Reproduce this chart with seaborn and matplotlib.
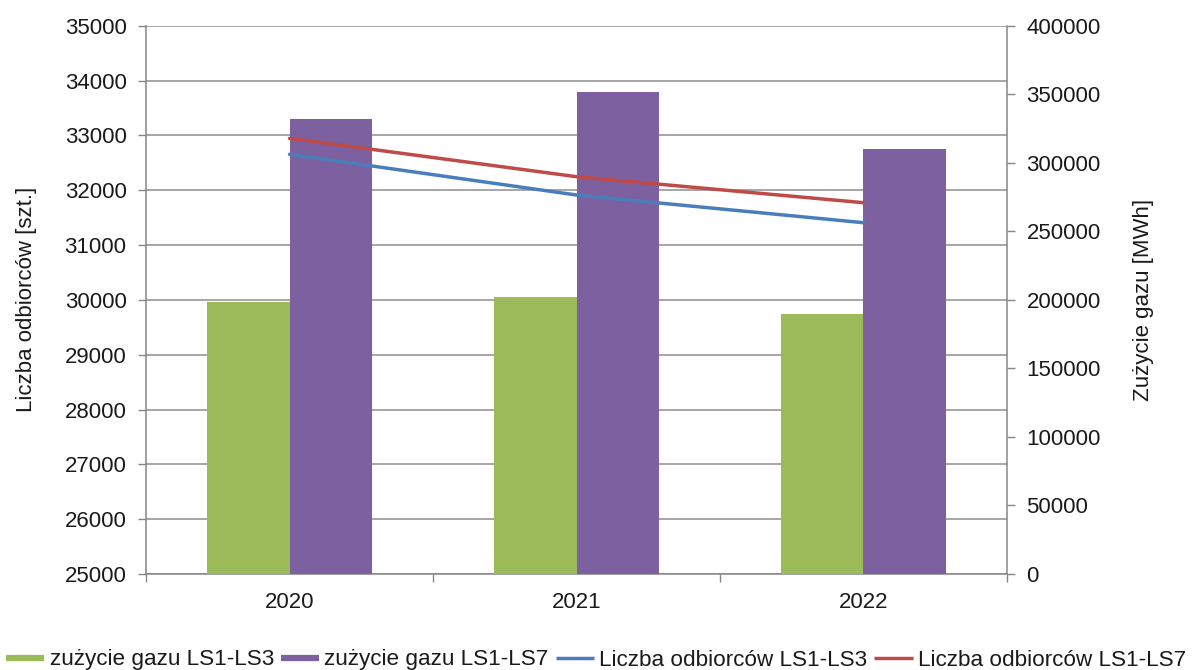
import numpy as np
import pandas as pd
import matplotlib
matplotlib.use("Agg")
import matplotlib.pyplot as plt
from matplotlib.lines import Line2D
import seaborn as sns

# Data
years = ["2020", "2021", "2022"]
gas_ls1_ls3 = [198700, 201900, 189700]      # MWh
gas_ls1_ls7 = [331900, 351400, 310000]      # MWh
customers_ls1_ls3 = [32655, 31912, 31407]   # szt.
customers_ls1_ls7 = [32946, 32246, 31772]   # szt.

bar_labels = ["zużycie gazu LS1-LS3", "zużycie gazu LS1-LS7"]
line_labels = ["Liczba odbiorców LS1-LS3", "Liczba odbiorców LS1-LS7"]

GREEN = "#9BBB59"
PURPLE = "#7D60A0"
BLUE = "#4A7EBB"
RED = "#BE4B48"
GRID = "#8E8E8E"
SPINE = "#868686"
TXT = "#1a1a1a"

sns.set_style("white")
plt.rcParams["font.family"] = ["Liberation Sans", "DejaVu Sans"]
plt.rcParams["font.size"] = 16

bars_df = pd.DataFrame({
    "rok": years * 2,
    "seria": [bar_labels[0]] * len(years) + [bar_labels[1]] * len(years),
    "wartosc": gas_ls1_ls3 + gas_ls1_ls7,
})

fig = plt.figure(figsize=(11.92, 6.70), dpi=100)
W, H = 1192, 670
ax = fig.add_axes([146 / W, 1 - 574 / H, (1007 - 146) / W, (574 - 25.7) / H])
ax_bars = ax.twinx()
ax_lines = ax.twinx()

# Layer order: grid (left axis) -> bars (right axis) -> lines (left scale)
ax.set_zorder(0)
ax_bars.set_zorder(1)
ax_lines.set_zorder(2)
for a in (ax_bars, ax_lines):
    a.patch.set_visible(False)

# Bars on the right-hand axis
sns.barplot(data=bars_df, x="rok", y="wartosc", hue="seria",
            palette=[GREEN, PURPLE], width=0.572, gap=0,
            saturation=1, legend=False, ax=ax_bars, edgecolor="none")
ax_bars.set_ylim(0, 400000)
ax_bars.set_yticks(np.arange(0, 400001, 50000))
ax_bars.set_ylabel("Zużycie gazu [MWh]", fontsize=16, color=TXT, rotation=90)
ax_bars.yaxis.set_label_coords(1.146, 0.5)
ax_bars.set_xlabel("")

# Lines on the left scale
pos = np.arange(len(years))
sns.lineplot(x=pos, y=customers_ls1_ls3, color=BLUE, linewidth=2.5,
             ax=ax_lines, sort=False)
sns.lineplot(x=pos, y=customers_ls1_ls7, color=RED, linewidth=2.5,
             ax=ax_lines, sort=False)
ax_lines.set_ylim(25000, 35000)
ax_lines.set_yticks([])
ax_lines.tick_params(right=False, labelright=False)

# Left axis with gridlines
ax.set_ylim(25000, 35000)
ax.set_yticks(np.arange(25000, 35001, 1000))
ax.yaxis.grid(True, color=GRID, linewidth=1.1)
ax.set_axisbelow(True)
ax.set_ylabel("Liczba odbiorców [szt.]", fontsize=16, color=TXT)
ax.yaxis.set_label_coords(-0.127, 0.5)

ax.set_xlim(-0.5, len(years) - 0.5)
ax.set_xticks(pos)
ax.set_xticklabels(years)
ax.set_xticks(np.arange(-0.5, len(years)), minor=True)
ax.tick_params(axis="x", which="major", length=0, pad=13, labelsize=16, labelcolor=TXT)
ax.tick_params(axis="x", which="minor", length=5.5, width=1, color=SPINE, direction="out", bottom=True)
ax.tick_params(axis="y", which="major", length=6, width=1, color=SPINE, direction="out",
               left=True, pad=8, labelsize=16, labelcolor=TXT)
ax_bars.tick_params(axis="y", which="major", length=6, width=1, color=SPINE, direction="out",
                    right=True, pad=8, labelsize=16, labelcolor=TXT)

for a in (ax, ax_bars, ax_lines):
    for s in a.spines.values():
        s.set_visible(False)
ax.spines["left"].set_visible(True)
ax.spines["bottom"].set_visible(True)
ax_bars.spines["right"].set_visible(True)
for s in (ax.spines["left"], ax.spines["bottom"], ax_bars.spines["right"]):
    s.set_color(SPINE)
    s.set_linewidth(1.1)

# Legend below the plot
handles = [
    Line2D([], [], color=GREEN, linewidth=4.5, solid_capstyle="butt"),
    Line2D([], [], color=PURPLE, linewidth=4.5, solid_capstyle="butt"),
    Line2D([], [], color=BLUE, linewidth=2.5, solid_capstyle="butt"),
    Line2D([], [], color=RED, linewidth=2.5, solid_capstyle="butt"),
]
fig.legend(handles, bar_labels + line_labels, loc="center", ncol=4,
           bbox_to_anchor=(0.5, 1 - 660 / H), frameon=False, fontsize=16.2,
           handlelength=1.7, handletextpad=0.25, columnspacing=0.3,
           borderaxespad=0, borderpad=0, labelcolor=TXT)

fig.savefig("out.png", dpi=100)
